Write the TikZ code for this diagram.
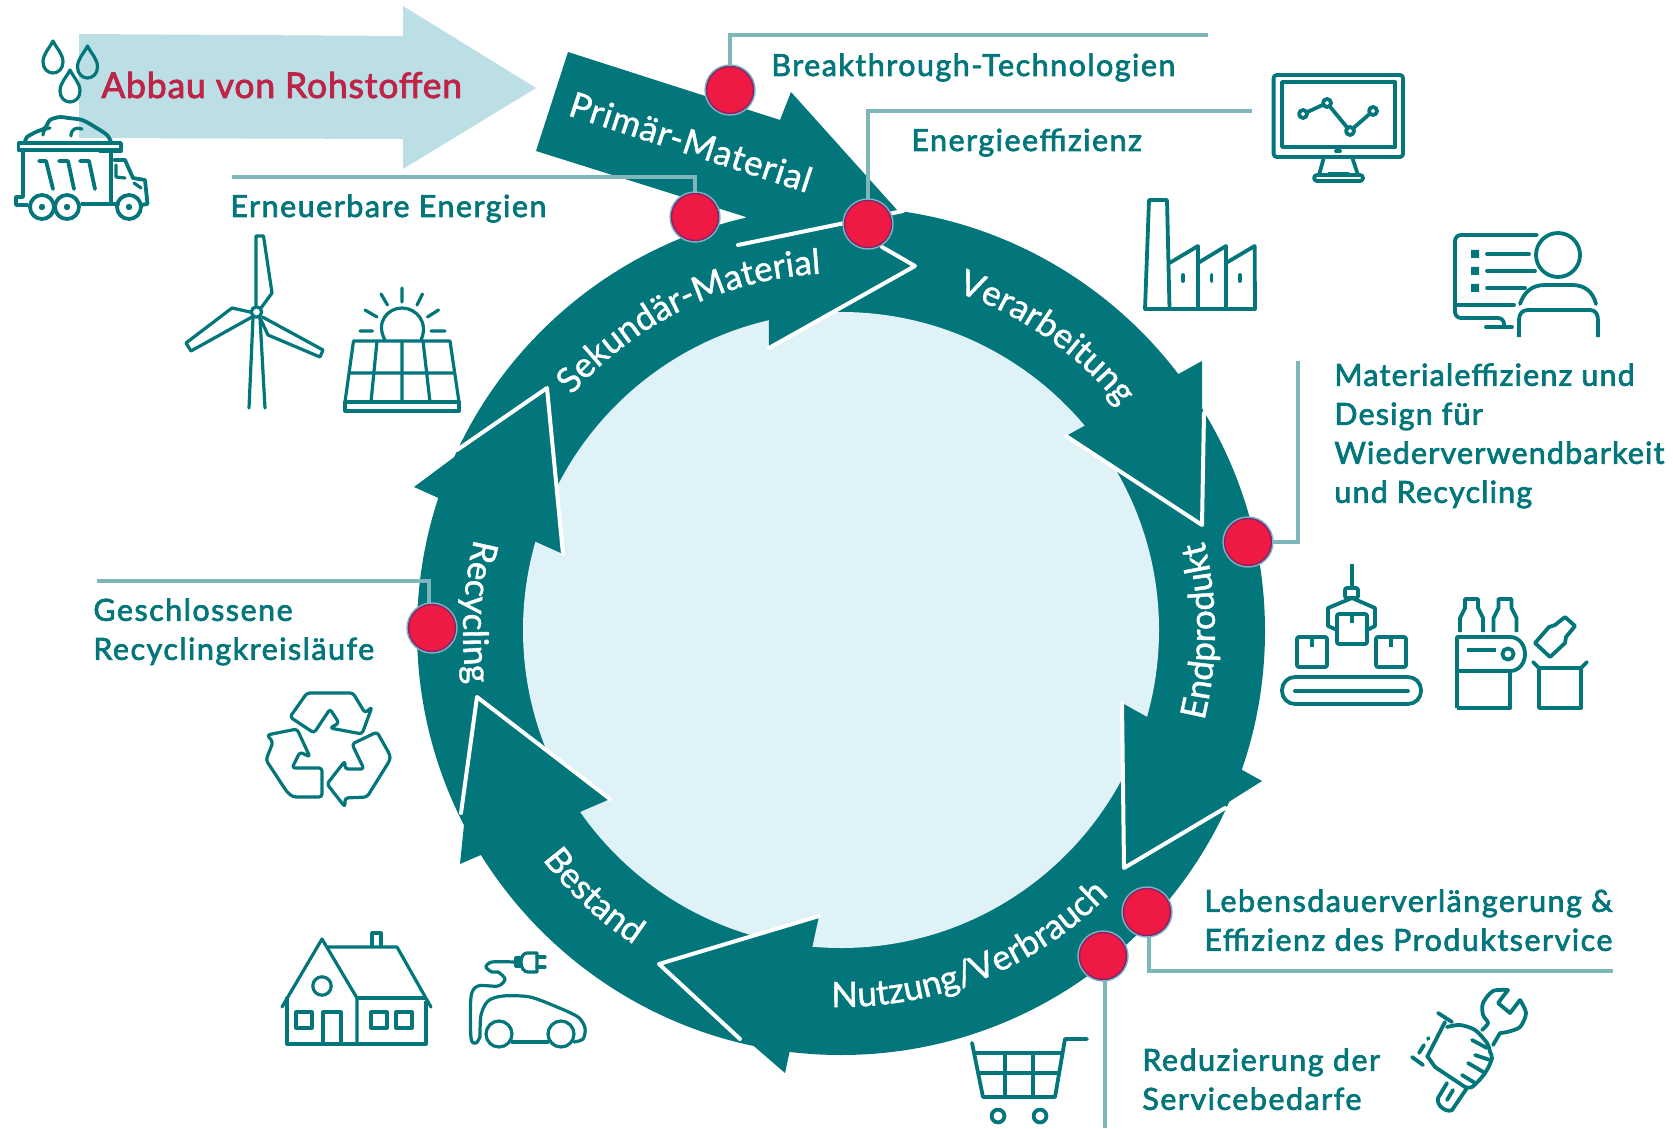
\documentclass[tikz,border=0pt]{standalone}
\usepackage{fontspec}
\usetikzlibrary{decorations.text}
\setmainfont{Lato}
\newfontfamily\latoM{Lato}[LetterSpace=5,RawFeature={embolden=2.4}]
\newfontfamily\latoN{Lato}[LetterSpace=4,RawFeature={embolden=2.4}]
\newfontfamily\latoA{Lato}[LetterSpace=2.5,RawFeature={embolden=2.4}]
\newfontfamily\latoB{Lato}[LetterSpace=2.5,RawFeature={embolden=1.2}]
\definecolor{tealc}{HTML}{02767A}
\definecolor{discc}{HTML}{DFF2F8}
\definecolor{arrowc}{HTML}{BCDFE6}
\definecolor{connc}{HTML}{7DB6BB}
\definecolor{dotc}{HTML}{EF1A43}
\definecolor{dotb}{HTML}{8A2070}
\definecolor{rawc}{HTML}{BE2447}
\newcommand{\labfont}{\latoM\fontsize{15.2}{19.5}\selectfont}
\newcommand{\bandfont}{\latoB\fontsize{17.5}{20}\selectfont}
\tikzset{
  icon/.style={draw=tealc,line width=1.9pt,line join=round,line cap=round,fill=none},
  thin icon/.style={icon,line width=1.6pt},
  conn/.style={draw=connc,line width=1.7pt},
  whiteline/.style={draw=white,line width=2pt,line cap=round,line join=round},
  head/.style={fill=tealc},
  dotn/.style={circle,minimum size=47*0.5pt,inner sep=0pt,fill=dotc,draw=dotb,line width=0.7pt,preaction={draw=connc,line width=2.2pt}},
  lab/.style={inner sep=0pt,text=tealc,font=\labfont,align=left},
  band/.style={decorate,decoration={text along path,text align=center,text={#1}}}
}
\newcommand{\arcpath}[4]{plot[domain=#3:#4,samples=60] ({841+#2*cos(\x)},{631-#2*sin(\x)})}
\begin{document}
\begin{tikzpicture}[x=0.5pt,y=-0.5pt]
\useasboundingbox (0,0) rectangle (1673,1128);
% raw material arrow
\fill[arrowc] (79,34) -- (403,36) -- (403,6) -- (536,88) -- (403,169) -- (403,139) -- (79,138) -- cycle;
% ring
\fill[tealc] (841,631) circle[radius=212pt];
\fill[discc] (841,630) circle[radius=159pt];
% arrow heads
\fill[head] (769,348) -- (915,266) -- (768,181) -- cycle;
\fill[head] (1202,361) -- (1202,525) -- (1066,436) -- cycle;
\fill[head] (1122,703) -- (1262,781) -- (1124,868) -- cycle;
\fill[head] (819,916) -- (659,964) -- (785,1073) -- cycle;
\fill[head] (477,697) -- (610,799) -- (460,864) -- cycle;
\fill[head] (547,388) -- (414,487) -- (563,554) -- cycle;
% primary arrow
\fill[head] (568,52) -- (780,120) -- (791,92) -- (897,210) -- (738,245) -- (746,217) -- (536,151) -- cycle;
% white edges
\draw[whiteline] (882,247) -- (915,266) -- (769,348);
\draw[whiteline] (738,245) -- (903,211);
\draw[whiteline] (1066,436) -- (1202,525) -- (1204,413);
\draw[whiteline] (1122,703) -- (1124,868) -- (1225,808);
\draw[whiteline] (819,916) -- (659,964) -- (740,1039);
\draw[whiteline] (461,813) -- (477,697) -- (610,799);
\draw[whiteline] (457,450) -- (547,388) -- (563,554);
% band labels
\node[anchor=base,rotate=-18,text=white,font=\bandfont,inner sep=0pt] (primar) at (687,154) {Primär-Material};
\path[band={|\bandfont\color{white}|Sekundär-Material}] \arcpath{x}{358}{165}{67};
\path[band={|\bandfont\color{white}|Verarbeitung}] \arcpath{x}{358}{95}{15};
\path[band={|\bandfont\color{white}|Endprodukt}] \arcpath{x}{374}{-40}{40};
\path[band={|\bandfont\color{white}|Nutzung/Verbrauch}] \arcpath{x}{376}{-113}{-23};
\path[band={|\bandfont\color{white}|Bestand}] \arcpath{x}{376}{187}{267};
\path[band={|\bandfont\color{white}|Recycling}] \arcpath{x}{378}{137}{217};
% dots
\node[dotn] (d1) at (730,90) {};
\node[dotn] (d2) at (695,217) {};
\node[dotn] (d3) at (868,224) {};
\node[dotn] (d4) at (1248,542) {};
\node[dotn] (d5) at (1147,912) {};
\node[dotn] (d6) at (1103,956) {};
\node[dotn] (d7) at (432,628) {};
% connectors
\coordinate (c1) at (1208,35);
\coordinate (c2) at (232,177);
\coordinate (c3) at (1252,111);
\coordinate (c4) at (1298,361);
\coordinate (c5) at (1613,971);
\coordinate (c6) at (1105,1128);
\coordinate (c7) at (97,581);
\draw[conn] (d1.north) |- (c1);
\draw[conn] (d2.north) |- (c2);
\draw[conn] (d3.north) |- (c3);
\draw[conn] (d4.east) -| (c4);
\draw[conn] ([xshift=1pt]d5.south) |- (c5);
\draw[conn] ([xshift=1pt]d6.south) -- ([xshift=1pt]d6.south |- c6);
\draw[conn] ([xshift=-1.5pt]d7.north) |- (c7);
% labels
\node[anchor=base west,inner sep=0pt,text=rawc,font=\latoA\fontsize{17.7}{20}\selectfont] (abbau) at (101,98) {Abbau von Rohstoffen};
\node[lab,anchor=base west] (t1) at (771,76) {Breakthrough-Technologien};
\node[lab,anchor=base west] (t2) at (911,151) {Energieeffizienz};
\node[lab,anchor=base west] (t3) at (230,217) {Erneuerbare Energien};
\node[lab,anchor=north west,font=\latoN\fontsize{15.2}{19.5}\selectfont] (t4) at (1334,363) {Materialeffizienz und\\Design für\\Wiederverwendbarkeit\\und Recycling};
\node[lab,anchor=north west] (t5) at (1204,889) {Lebensdauerverlängerung \&\\Effizienz des Produktservice};
\node[lab,anchor=north west] (t6) at (1142,1048) {Reduzierung der\\Servicebedarfe};
\node[lab,anchor=north west] (t7) at (93,598) {Geschlossene\\Recyclingkreisläufe};
% drops
\foreach \a/\b in {53/62,87.5/67,70/91}{
 \begin{scope}[shift={(\a,\b)}]
 \draw[thin icon] (0,-21) .. controls (-4,-13) and (-10,-8) .. (-10,0) .. controls (-10,7) and (-5,11) .. (0,11) .. controls (5,11) and (10,7) .. (10,0) .. controls (10,-8) and (4,-13) .. (0,-21) -- cycle;
 \end{scope}}
% truck
\draw[icon] (18.5,143) rectangle (121,150);
\draw[icon] (23,150) -- (23,197) -- (16,197) -- (16,205) -- (27,205);
\draw[icon] (100,151) -- (121,151);
\draw[icon] (111,151) -- (111,204);
\draw[icon] (82,204) -- (118,204);
\draw[icon] (114,160) -- (125,160) -- (133,178) -- (145,180) -- (147.5,204) -- (141,205);
\draw[thin icon] (116,165) -- (116,177) -- (125,178);
\draw[thin icon] (134,183) -- (141,188);
\foreach \a in {42,67,129}{\draw[icon] (\a,207) circle[radius=6pt]; \fill[tealc] (\a,207) circle[radius=1.6pt];}
\draw[icon] (39,161) -- (46,161) -- (53,189);
\draw[icon] (59,161) -- (68,161) -- (74,189);
\draw[icon] (80,161) -- (89,161) -- (95,189);
\draw[icon] plot[smooth] coordinates {(25,142) (27,137) (36,132) (45,128) (50,120) (60,117) (68,118) (82,120) (95,127) (107,135) (111,142)};
\draw[thin icon] (43,135) .. controls (43,130) and (46,128) .. (50,128);
\draw[thin icon] (71,136) .. controls (71,129) and (76,127) .. (82,129);
% wind turbine
\draw[thin icon] (256,306) -- (256,236) -- (263.5,236) -- (272,293) -- (261,308);
\draw[thin icon] (250,312) -- (232,308) -- (186,343) -- (191,351) -- (252,317);
\draw[thin icon] (262.5,317) -- (323,350) -- (320,357) -- (268,335) -- (261,320);
\draw[thin icon] (256.5,312) circle[radius=2.6pt];
\draw[thin icon] (253,318) -- (249,408);
\draw[thin icon] (260,318) -- (265,408);
% solar
\draw[thin icon] (385,340) .. controls (375,322) and (388,308) .. (402,308) .. controls (416,308) and (429,322) .. (421,340);
\draw[thin icon] (402,288) -- (402,302) (381,294) -- (387.5,305) (422.5,294) -- (417,305) (365,310) -- (377,317) (438.5,310) -- (427.5,317) (360,331) -- (372.5,331) (431,331) -- (445,331);
\draw[thin icon] (353.5,341) -- (450,341) -- (459,402) -- (345,402) -- cycle;
\draw[thin icon] (345,402) rectangle (459,411);
\draw[thin icon] (350,373) -- (454,373) (377,341) -- (371,402) (402,341) -- (402,402) (423,341) -- (430,402);
% monitor
\draw[icon,rounded corners=1.5pt] (1273.6,75) rectangle (1403,157);
\draw[icon] (1282,82) rectangle (1395,147);
\draw[icon] (1336,151) -- (1340,151);
\draw[icon] (1324,157) -- (1319,175) (1352,157) -- (1358,175);
\draw[icon,rounded corners=1.5pt] (1314,175) rectangle (1363,181);
\draw[icon] (1329,174) -- (1348,174);
\draw[icon] (1303,114) -- (1327,103) -- (1350,131) -- (1373,111);
\foreach \a/\b in {1303/114,1327/103,1350/131,1373/111}{\draw[icon,fill=white] (\a,\b) circle[radius=2pt];}
% factory
\draw[icon] (1169.5,309) -- (1167,200) -- (1149,200) -- (1145,309) -- (1255,309) -- (1254.6,246) -- (1226,263) -- (1226,246) -- (1198,263) -- (1198,246) -- (1169.5,263);
\draw[icon] (1198,263) -- (1198,309) (1226,263) -- (1226,309);
\draw[icon] (1183,275) -- (1183,281) (1211.5,275) -- (1211.5,281) (1239.6,275) -- (1239.6,281);
% person at computer
\draw[icon,rounded corners=3pt] (1537,235) -- (1455,235) -- (1455,318) -- (1504,318) -- (1504,327);
\draw[icon] (1486,327) -- (1512,327);
\draw[icon] (1456,305) -- (1514,305);
\fill[tealc] (1471,250) rectangle (1479,258) (1471,267) rectangle (1479,275) (1471,284) rectangle (1479,292);
\draw[icon] (1487,254) -- (1529,254) (1487,271) -- (1535,271) (1487,288) -- (1525,288);
\draw[icon] (1558,255) circle[radius=11pt];
\draw[icon] (1520,304) .. controls (1524,292) and (1532,285) .. (1545,285) -- (1572,285) .. controls (1585,285) and (1593,292) .. (1596,304);
\draw[icon,line cap=butt] (1519,337) -- (1519,320) .. controls (1519,314) and (1522,310) .. (1528,310) -- (1590,310) .. controls (1595,310) and (1598,314) .. (1598,320) -- (1598,337);
% packaging robot
\draw[icon,line cap=butt] (1352,564) -- (1352,588);
\draw[icon,rounded corners=1pt] (1345,588) rectangle (1358,598);
\draw[icon] (1337,630) -- (1328,626) -- (1328,608) -- (1352,598) -- (1375,608) -- (1375,626) -- (1367,630);
\draw[icon,rounded corners=1pt] (1337,614) rectangle (1367,644);
\draw[icon,rounded corners=1pt] (1297,637) rectangle (1327,667);
\draw[icon,rounded corners=1pt] (1376,637) rectangle (1406,667);
\draw[icon,line cap=butt] (1352,614) -- (1352,623) (1312,637) -- (1312,647) (1391,637) -- (1391,647);
\draw[icon,rounded corners=6.5pt] (1282,677) rectangle (1421,704);
\draw[icon] (1295,691) -- (1408,691);
% bottling
\draw[icon,line cap=butt] (1457,708) -- (1457,637) -- (1510,637) .. controls (1519,637) and (1525,645) .. (1525,654) .. controls (1525,663) and (1519,671) .. (1510,671) -- (1457,671);
\draw[icon,line cap=butt] (1510,671) -- (1510,708) -- (1457,708);
\draw[icon,line cap=butt] (1467,650) -- (1496,650);
\draw[icon] (1508,654) circle[radius=2.8pt];
\foreach \a in {0,33.5}{
 \begin{scope}[xshift=\a*0.5pt]
 \draw[icon,line cap=butt] (1460,632) -- (1460,618) -- (1465,608) -- (1465,599) -- (1478,599) -- (1478,608) -- (1483,618) -- (1483,632);
 \end{scope}}
\draw[icon,line cap=butt] (1539,668) rectangle (1581,708);
\draw[icon] (1533,662) -- (1539,668) (1587,662) -- (1581,668);
\draw[icon] (1565,617) -- (1575,626) -- (1566,637) -- (1565,643) -- (1550,657) -- (1535,643) -- (1549,627) -- (1555,625) -- cycle;
% recycle
\draw[thin icon,rounded corners=1.5pt] (290,717) -- (307,693) -- (353,693) -- (365,713) -- (372,707) -- (362,734) -- (330,728) -- (339,723) -- (330,709) -- (314,733) -- cycle;
\draw[thin icon,rounded corners=1.5pt] (297,729) -- (310,757) -- (300,752) -- (292,768) -- (322,768) -- (322,797) -- (293,797) -- (287,792) -- (266,760) -- (273,742) -- (267,735) -- cycle;
\draw[thin icon,rounded corners=1.5pt] (377,732) -- (390,755) -- (390,760) -- (367,797) -- (345,798) -- (345,807) -- (327,784) -- (345,761) -- (345,769) -- (364,769) -- (352,744) -- cycle;
% house
\draw[thin icon] (282,1007) -- (322,939) -- (357,998) -- (357,1043);
\draw[thin icon] (328,947) -- (397,947) -- (431,1007);
\draw[thin icon] (357,998) -- (425,998);
\draw[thin icon] (287,998) -- (287,1044) -- (426,1044) -- (426,1002);
\draw[thin icon] (372,945) -- (372,933) -- (381,933) -- (381,945);
\draw[thin icon] (322,986) circle[radius=4.6pt];
\draw[thin icon] (296,1012) rectangle (312,1028);
\draw[thin icon] (323,1044) -- (323,1012) -- (341,1012) -- (341,1044);
\draw[thin icon] (371,1012) rectangle (387,1028);
\draw[thin icon] (396,1012) rectangle (412,1028);
% car
\draw[thin icon] (499,1034) circle[radius=6.5pt];
\draw[thin icon] (561,1034) circle[radius=6.5pt];
\draw[thin icon] (512,1042) -- (548,1042);
\draw[thin icon] plot[smooth] coordinates {(480,1037) (481,1015) (488,1001) (503,996) (530,997) (557,1007) (578,1017) (585,1028) (583,1039) (574,1042)};
\draw[thin icon] plot[smooth] coordinates {(480,1037) (476,1043) (471,1038) (471,997) (478,986) (498,986) (505,979) (498,972) (492,972) (486,967) (492,962) (515,962)};
\draw[thin icon] (516,958) rectangle (520,966);
\draw[thin icon] (537,953) -- (527,953) .. controls (523,953) and (521,958) .. (521,962) .. controls (521,968) and (524,972) .. (528,972) -- (537,972) -- cycle;
\draw[thin icon] (537,957) -- (545,957) (537,967) -- (545,967);
% cart
\draw[icon] (1087,1039) -- (1065,1039) -- (1055,1097) -- (983,1097) -- (972,1043);
\draw[icon] (975,1053) -- (1061,1053) (980,1073) -- (1058,1073) (1005,1053) -- (1005,1097) (1033,1053) -- (1033,1097);
\draw[icon] (998,1116) circle[radius=3.2pt];
\draw[icon] (1040,1116) circle[radius=3.2pt];
% hand and wrench
\draw[icon] plot[smooth] coordinates {(1482,1030) (1488,1023) (1483,1015) (1483,1003) (1493,991) (1508,990)};
\draw[icon] (1508,990) -- (1498,1003) -- (1510,1013) -- (1520,1000);
\draw[icon] plot[smooth] coordinates {(1520,1000) (1526,1013) (1520,1027) (1507,1032) (1500,1033)};
\draw[icon] (1500,1033) -- (1493,1045);
\draw[icon] (1447,1083) -- (1438,1098) .. controls (1436,1106) and (1447,1113) .. (1452,1110) -- (1467,1088);
\draw[icon] (1447,1100) -- (1453,1090);
\draw[icon] (1438,1013) -- (1452,1022);
\draw[icon] (1412,1057) -- (1423,1065);
\draw[icon] (1445,1022) -- (1427,1057);
\draw[icon] (1419,1053) -- (1424,1045);
\draw[icon] (1428,1039) -- (1428.5,1038);
\draw[icon] plot[smooth] coordinates {(1447,1027) (1460,1025) (1475,1030) (1487,1043) (1490,1052)};
\draw[icon] plot[smooth] coordinates {(1490,1052) (1492,1058) (1488,1068) (1482,1077) (1472,1087) (1465,1087)};
\draw[icon] (1465,1087) -- (1435,1067) -- (1428,1057);
\draw[icon] (1472,1040) -- (1487,1048) (1475,1055) -- (1490,1060) (1468,1063) -- (1485,1073) (1462,1075) -- (1475,1083);
\end{tikzpicture}
\end{document}
